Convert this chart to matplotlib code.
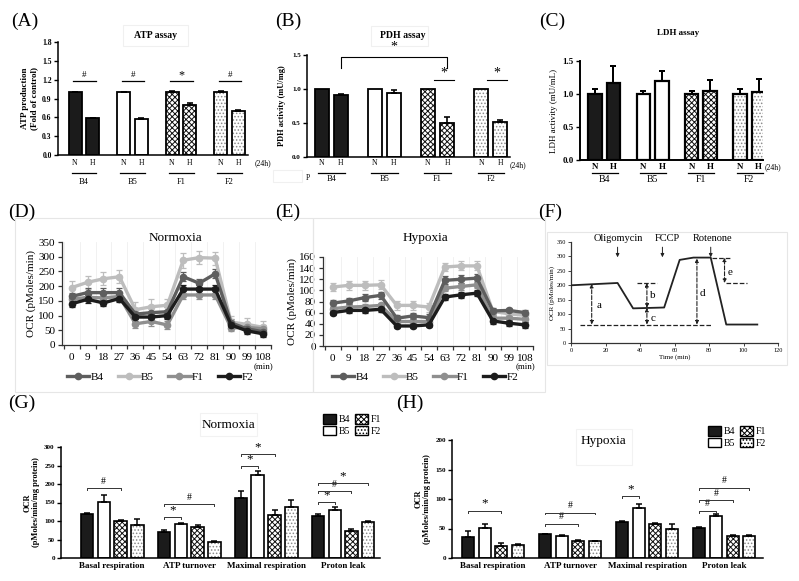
import matplotlib
matplotlib.use('Agg')
import matplotlib.pyplot as plt
import numpy as np
from matplotlib.lines import Line2D
from matplotlib.patches import Rectangle

plt.rcParams['font.family'] = ['Liberation Serif', 'DejaVu Serif']
plt.rcParams['hatch.linewidth'] = 0.7

# ---------------- data ----------------
groups = ['B4', 'B5', 'F1', 'F2']
conds = ['N', 'H']

atp_N = [1.00, 1.00, 1.00, 1.00]
atp_N_err = [0.01, 0.01, 0.025, 0.02]
atp_H = [0.59, 0.58, 0.80, 0.70]
atp_H_err = [0.005, 0.012, 0.03, 0.01]
atp_sig = ['#', '#', '*', '#']

pdh_N = [1.00, 1.00, 1.00, 1.00]
pdh_N_err = [0.0, 0.0, 0.0, 0.0]
pdh_H = [0.91, 0.94, 0.50, 0.51]
pdh_H_err = [0.01, 0.04, 0.09, 0.03]

ldh_N = [1.00, 1.00, 1.00, 1.00]
ldh_N_err = [0.07, 0.05, 0.04, 0.08]
ldh_H = [1.17, 1.19, 1.05, 1.03]
ldh_H_err = [0.25, 0.16, 0.16, 0.20]

time_min = [0, 9, 18, 27, 36, 45, 54, 63, 72, 81, 90, 99, 108]

norm_B4 = [165, 178, 178, 178, 105, 110, 113, 232, 210, 242, 75, 55, 45]
norm_B5 = [195, 213, 225, 232, 120, 130, 135, 288, 297, 295, 78, 70, 60]
norm_F1 = [155, 162, 160, 165, 72, 80, 68, 170, 170, 170, 58, 60, 55]
norm_F2 = [140, 155, 143, 158, 95, 95, 100, 190, 190, 190, 68, 48, 38]
norm_B4_err = [12, 15, 15, 15, 15, 15, 15, 15, 15, 15, 12, 10, 10]
norm_B5_err = [22, 22, 22, 22, 25, 25, 22, 25, 22, 22, 20, 22, 22]
norm_F1_err = [12, 12, 12, 12, 15, 15, 15, 15, 15, 15, 12, 12, 12]
norm_F2_err = [12, 12, 12, 12, 12, 12, 12, 15, 15, 15, 10, 10, 10]

hyp_B4 = [77, 81, 87, 91, 50, 54, 51, 118, 120, 122, 63, 64, 60]
hyp_B5 = [106, 109, 109, 110, 73, 73, 70, 142, 144, 144, 62, 58, 55]
hyp_F1 = [67, 70, 71, 73, 44, 44, 44, 104, 107, 110, 50, 50, 48]
hyp_F2 = [60, 64, 64, 66, 36, 36, 38, 88, 92, 95, 45, 41, 38]
hyp_B4_err = [6, 6, 6, 6, 6, 6, 6, 7, 7, 7, 5, 5, 5]
hyp_B5_err = [8, 8, 8, 8, 8, 8, 8, 8, 8, 8, 7, 7, 7]
hyp_F1_err = [5, 5, 5, 5, 5, 5, 5, 6, 6, 6, 5, 5, 5]
hyp_F2_err = [4, 4, 4, 4, 4, 4, 4, 5, 5, 5, 5, 5, 6]

f_time = [0, 27, 36, 54, 63, 71, 81, 90, 108]
f_ocr = [200, 208, 120, 123, 288, 296, 296, 64, 64]

resp_cats = ['Basal respiration', 'ATP turnover', 'Maximal respiration', 'Proton leak']
g_B4 = [120, 70, 162, 113]
g_B5 = [152, 92, 224, 130]
g_F1 = [100, 83, 116, 73]
g_F2 = [88, 43, 139, 98]
g_B4_err = [2, 5, 20, 6]
g_B5_err = [18, 2, 12, 7]
g_F1_err = [3, 5, 14, 5]
g_F2_err = [17, 3, 17, 3]
# (category, bar from, bar to, y, symbol)
g_sig = [(0, 0, 2, 189, '#'), (1, 0, 1, 111, '*'), (1, 0, 3, 146, '#'),
         (2, 0, 1, 249, '*'), (2, 0, 2, 281, '*'),
         (3, 0, 1, 151, '*'), (3, 0, 2, 181, '#'), (3, 0, 3, 203, '*')]

h_B4 = [36, 40, 61, 51]
h_B5 = [51, 37, 84, 72]
h_F1 = [21, 29, 58, 38]
h_F2 = [22, 28, 50, 37]
h_B4_err = [10, 1, 2, 1]
h_B5_err = [6, 2, 7, 2]
h_F1_err = [4, 1, 2, 1]
h_F2_err = [2, 0.5, 8, 2]
h_sig = [(0, 0, 2, 80, '*'), (1, 0, 2, 58, '#'), (1, 0, 3, 77, '#'),
         (2, 0, 1, 105, '*'),
         (3, 0, 1, 80, '#'), (3, 0, 2, 98, '#'), (3, 0, 3, 119, '#')]

# ---------------- helpers ----------------
W, H = 799, 581
fig = plt.figure(figsize=(W / 100, H / 100), dpi=100)


def add_ax(l, t, r, b):
    return fig.add_axes([l / W, 1 - b / H, (r - l) / W, (b - t) / H])


def ftext(x, y, s, **kw):
    kw.setdefault('ha', 'center')
    kw.setdefault('va', 'center')
    return fig.text(x / W, 1 - y / H, s, **kw)


def fbox(l, t, r, b, color='#e6e6e6', lw=0.8):
    fig.patches.append(Rectangle((l / W, 1 - b / H), (r - l) / W, (b - t) / H,
                                 transform=fig.transFigure, fill=False,
                                 edgecolor=color, lw=lw, zorder=0))


def symsize(sym, base):
    return base * 1.35 if sym == '*' else base


STY = {'B4': ('#1b1b1b', None, None),
       'B5': ('white', None, None),
       'F1': ('white', 'xxxxxx', '#111111'),
       'F2': ('white', '.....', '#8a8a8a')}


def draw_bar(ax, x, h, err, name, w=1.0, lw=1.2, cap=2.2):
    fc, hatch, hc = STY[name]
    if hatch:
        ax.bar(x, h, w, color='white', edgecolor=hc, hatch=hatch, linewidth=0, zorder=2)
        ax.bar(x, h, w, fill=False, edgecolor='k', linewidth=lw, zorder=3)
    else:
        ax.bar(x, h, w, color=fc, edgecolor='k', linewidth=lw, zorder=2)
    if err > 0:
        ax.errorbar([x], [h], yerr=[[0], [err]], fmt='none', ecolor='k',
                    elinewidth=lw * 0.9, capsize=cap, capthick=lw * 0.9, zorder=4)


def style_prism(ax, ticks, labels, lsize, bold=True, lw=1.1):
    for s in ['top', 'right']:
        ax.spines[s].set_visible(False)
    for s in ['left', 'bottom']:
        ax.spines[s].set_linewidth(lw)
    ax.set_xticks([])
    ax.set_yticks(ticks, labels, fontsize=lsize, fontweight='bold' if bold else 'normal')
    ax.tick_params(axis='y', length=3, width=1, pad=1.5)


def below(ax, x, dy, s, **kw):
    ax.annotate(s, xy=(x, 0), xycoords=('data', 'axes fraction'), xytext=(0, -dy),
                textcoords='offset pixels', ha='center', va='center',
                annotation_clip=False, **kw)


def below_line(ax, x1, x2, dy, lw=0.9):
    frac = -dy / ax.bbox.height
    ax.plot([x1, x2], [frac, frac], transform=ax.get_xaxis_transform(),
            color='k', lw=lw, clip_on=False)


def nh_panel(ax, nvals, nerr, hvals, herr, G, S, lw, lsize, nh_bold=False,
             dy_nh=8, dy_line=18, dy_glab=26):
    for g, name in enumerate(groups):
        xN, xH = g * G, g * G + S
        draw_bar(ax, xN, nvals[g], nerr[g], name, lw=lw)
        draw_bar(ax, xH, hvals[g], herr[g], name, lw=lw)
        below(ax, xN, dy_nh, conds[0], fontsize=lsize, fontweight='bold' if nh_bold else 'normal')
        below(ax, xH, dy_nh, conds[1], fontsize=lsize, fontweight='bold' if nh_bold else 'normal')
        below_line(ax, xN - 0.25, xH + 0.3, dy_line)
        below(ax, (xN + xH) / 2, dy_glab, name, fontsize=lsize + 0.5)


# ---------------- Panel A ----------------
axA = add_ax(58, 42, 248, 155)
GA, SA = 3.73, 1.35
nh_panel(axA, atp_N, atp_N_err, atp_H, atp_H_err, GA, SA, 1.3, 5.5,
         dy_nh=8, dy_line=18, dy_glab=27)
axA.set_xlim(-1.31, 13.3)
axA.set_ylim(0, 1.8)
style_prism(axA, [0, 0.3, 0.6, 0.9, 1.2, 1.5, 1.8],
            ['0.0', '0.3', '0.6', '0.9', '1.2', '1.5', '1.8'], 5.5)
axA.set_ylabel('ATP production\n(Fold of control)', fontsize=6.5, fontweight='bold',
               labelpad=3, linespacing=1.1)
for g in range(4):
    x1, x2 = g * GA - 0.15, g * GA + SA + 0.25
    axA.plot([x1, x2], [1.18, 1.18], color='k', lw=0.9, zorder=5)
    axA.text((x1 + x2) / 2, 1.27, atp_sig[g], ha='center', va='center',
             fontsize=symsize(atp_sig[g], 6.5))
ftext(263, 163, '(24h)', fontsize=5.5)
ftext(155, 36, 'ATP assay', fontsize=7, fontweight='bold')
fbox(123, 25, 188, 46, color='#f0f0f0')
ftext(25, 21, '(A)', fontsize=14)

# ---------------- Panel B ----------------
axB = add_ax(307, 55, 510, 157)
GB, SB = 3.66, 1.31
nh_panel(axB, pdh_N, pdh_N_err, pdh_H, pdh_H_err, GB, SB, 1.3, 5.5,
         dy_nh=6, dy_line=16, dy_glab=22)
axB.set_xlim(-1.03, 12.97)
axB.set_ylim(0, 1.5)
style_prism(axB, [0, 0.5, 1.0, 1.5], ['0.0', '0.5', '1.0', '1.5'], 5)
axB.set_ylabel('PDH activity (mU/mg)', fontsize=6, fontweight='bold', labelpad=4)
xb1, xb2 = SB, 2 * GB + SB
axB.plot([xb1, xb1, xb2, xb2], [1.31, 1.47, 1.47, 1.31], color='k', lw=0.8, clip_on=False)
axB.text((xb1 + xb2) / 2, 1.62, '*', ha='center', va='center', fontsize=10, clip_on=False)
for g in [2, 3]:
    x1, x2 = g * GB + 0.4, g * GB + SB + 0.5
    axB.plot([x1, x2], [1.13, 1.13], color='k', lw=0.8)
    axB.text((x1 + x2) / 2, 1.23, '*', ha='center', va='center', fontsize=10)
ftext(518, 165, '(24h)', fontsize=5.5)
ftext(403, 36, 'PDH assay', fontsize=7, fontweight='bold')
fbox(371, 26, 428, 46, color='#f0f0f0')
fbox(273, 170, 302, 182, color='#f0f0f0')
ftext(308, 178, 'P', fontsize=5.5)
ftext(288, 21, '(B)', fontsize=14)

# ---------------- Panel C ----------------
axC = add_ax(580, 61, 763, 160)
GC, SC = 3.58, 1.37
nh_panel(axC, ldh_N, ldh_N_err, ldh_H, ldh_H_err, GC, SC, 1.6, 6.5, nh_bold=True,
         dy_nh=7, dy_line=13, dy_glab=20)
axC.set_xlim(-1.11, 12.44)
axC.set_ylim(0, 1.5)
style_prism(axC, [0, 0.5, 1.0, 1.5], ['0.0', '0.5', '1.0', '1.5'], 6.5, lw=1.4)
axC.set_ylabel('LDH activity (mU/mL)', fontsize=6.5, labelpad=3)
ftext(773, 167, '(24h)', fontsize=5.5)
ftext(678, 33, 'LDH assay', fontsize=6.5, fontweight='bold')
ftext(552, 21, '(C)', fontsize=14)

# ---------------- Panels D & E ----------------
LCOL = {'B4': '#5e5e5e', 'B5': '#bdbdbd', 'F1': '#8f8f8f', 'F2': '#1c1c1c'}
ORDER = ['B5', 'F1', 'B4', 'F2']


def line_panel(ax, series, errs, ylim, ystep):
    x = np.arange(len(time_min))
    for name in ORDER:
        ax.errorbar(x, series[name], yerr=errs[name], color=LCOL[name], lw=2.4,
                    marker='o', ms=4.5, capsize=2.5, elinewidth=0.9, capthick=0.9,
                    ecolor=LCOL[name], zorder=3)
    ax.set_xlim(x[0] - 0.6, x[-1] + 0.5)
    ax.set_ylim(*ylim)
    ax.set_xticks(x, [str(t) for t in time_min], fontsize=8)
    ax.set_xticks(np.arange(-0.5, len(time_min), 1), minor=True)
    ax.tick_params(axis='x', which='major', length=0, pad=6)
    ax.tick_params(axis='x', which='minor', length=3, width=0.9, direction='out', color='#333')
    ax.set_yticks(np.arange(ylim[0], ylim[1] + 1, ystep))
    ax.tick_params(axis='y', length=3, width=0.9, labelsize=8, pad=2, color='#333')
    for s in ['top', 'right']:
        ax.spines[s].set_visible(False)
    for s in ['left', 'bottom']:
        ax.spines[s].set_color('#333')
        ax.spines[s].set_linewidth(0.9)
    ax.grid(axis='x', which='minor', color='#efefef', lw=0.6)
    ax.set_axisbelow(True)
    ax.set_ylabel('OCR (pMoles/min)', fontsize=8, labelpad=2)


axD = add_ax(62, 242, 271, 345)
line_panel(axD, {'B4': norm_B4, 'B5': norm_B5, 'F1': norm_F1, 'F2': norm_F2},
           {'B4': norm_B4_err, 'B5': norm_B5_err, 'F1': norm_F1_err, 'F2': norm_F2_err},
           (0, 350), 50)
ftext(175, 238, 'Normoxia', fontsize=9.5)
ftext(263, 366, '(min)', fontsize=6.5)

axE = add_ax(323, 257, 533, 346)
line_panel(axE, {'B4': hyp_B4, 'B5': hyp_B5, 'F1': hyp_F1, 'F2': hyp_F2},
           {'B4': hyp_B4_err, 'B5': hyp_B5_err, 'F1': hyp_F1_err, 'F2': hyp_F2_err},
           (0, 160), 20)
ftext(425, 238, 'Hypoxia', fontsize=9.5)
ftext(525, 366, '(min)', fontsize=6.5)

leg_handles = [Line2D([], [], color=LCOL[n], lw=2.4, marker='o', ms=4.5) for n in groups]
for cx in [160, 425]:
    fig.legend(leg_handles, groups, loc='center', bbox_to_anchor=(cx / W, 1 - 377 / H),
               ncol=4, frameon=False, fontsize=8, handlelength=2.0, handletextpad=0.1,
               columnspacing=1.3, borderaxespad=0)
fbox(15, 218, 313, 392)
fbox(313, 218, 545, 392)
ftext(22, 212, '(D)', fontsize=14)
ftext(288, 212, '(E)', fontsize=14)

# ---------------- Panel F ----------------
axF = add_ax(571, 242, 778, 343)
axF.plot(f_time, f_ocr, color='#222', lw=1.3, zorder=3)
axF.set_xlim(0, 120)
axF.set_ylim(0, 350)
axF.set_xticks(range(0, 121, 20))
axF.set_yticks(range(0, 351, 50))
axF.tick_params(labelsize=4.5, length=2, width=0.7, pad=1.5, color='#444')
for s in ['top', 'right']:
    axF.spines[s].set_visible(False)
for s in ['left', 'bottom']:
    axF.spines[s].set_linewidth(0.9)
    axF.spines[s].set_color('#333')
axF.set_xlabel('Time (min)', fontsize=5, labelpad=1)
axF.set_ylabel('OCR (pMoles/min)', fontsize=5, labelpad=1)
dash = dict(color='#222', lw=0.9, ls='--')
axF.plot([5, 81], [64, 64], **dash)
axF.plot([38, 50], [208, 208], **dash)
axF.plot([82, 93], [296, 296], **dash)
axF.plot([90, 102], [208, 208], **dash)


def darrow(x, y1, y2):
    axF.annotate('', xy=(x, y2), xytext=(x, y1),
                 arrowprops=dict(arrowstyle='<|-|>', color='#222', lw=0.8, ls='--',
                                 mutation_scale=5, shrinkA=0, shrinkB=0))


darrow(12, 64, 205)
darrow(44, 122, 208)
darrow(44, 64, 122)
darrow(73, 64, 293)
darrow(89, 208, 296)
for lab, xx, yy in [('a', 16, 130), ('b', 47.5, 165), ('c', 47.5, 85),
                    ('d', 76, 170), ('e', 92, 245)]:
    axF.text(xx, yy, lab, fontsize=8, ha='center', va='center')
for lab, xa, xt in [('Oligomycin', 27, 27.5), ('FCCP', 53, 56), ('Rotenone', 81, 82)]:
    axF.text(xt, 362, lab, fontsize=7.5, ha='center', va='center', clip_on=False)
    axF.annotate('', xy=(xa, 297), xytext=(xa, 332), annotation_clip=False,
                 arrowprops=dict(arrowstyle='-|>', color='#222', lw=0.7,
                                 mutation_scale=5, shrinkA=0, shrinkB=0))
fbox(547, 232, 787, 365)
ftext(550, 212, '(F)', fontsize=14)

# ---------------- Panels G & H ----------------


def resp_panel(ax, vals, errs, G, S, sig, ymax, ystep, sig_off):
    for c in range(len(resp_cats)):
        for j, name in enumerate(groups):
            draw_bar(ax, c * G + j * S, vals[name][c], errs[name][c], name, lw=1.2, cap=2.2)
    for (c, a, b, y, sym) in sig:
        x1, x2 = c * G + a * S, c * G + b * S
        t = sig_off * 0.25
        ax.plot([x1, x1, x2, x2], [y - t, y, y, y - t], color='#333', lw=0.7, zorder=5)
        ax.text((x1 + x2) / 2, y + sig_off, sym, ha='center', va='center',
                fontsize=symsize(sym, 7))
    ax.set_ylim(0, ymax)
    ticks = list(range(0, ymax + 1, ystep))
    style_prism(ax, ticks, [str(t) for t in ticks], 5, lw=1.1)
    ax.set_xticks([c * G + 1.5 * S for c in range(len(resp_cats))], resp_cats,
                  fontsize=6.5, fontweight='bold')
    ax.tick_params(axis='x', length=0, pad=3)
    ax.set_ylabel('OCR\n(pMoles/min/mg protein)', fontsize=6, fontweight='bold',
                  linespacing=1.1, labelpad=3)


GG, SG = 6.16, 1.34
axG = add_ax(61, 447, 380, 558)
resp_panel(axG, {'B4': g_B4, 'B5': g_B5, 'F1': g_F1, 'F2': g_F2},
           {'B4': g_B4_err, 'B5': g_B5_err, 'F1': g_F1_err, 'F2': g_F2_err},
           GG, SG, g_sig, 300, 50, 18)
axG.set_xlim(-2.08, 23.44)
ftext(228, 425, 'Normoxia', fontsize=9.5)
fbox(200, 413, 257, 436, color='#f2f2f2')
ftext(22, 403, '(G)', fontsize=14)

GH, SH = 6.42, 1.39
axH = add_ax(452, 440, 763, 558)
resp_panel(axH, {'B4': h_B4, 'B5': h_B5, 'F1': h_F1, 'F2': h_F2},
           {'B4': h_B4_err, 'B5': h_B5_err, 'F1': h_F1_err, 'F2': h_F2_err},
           GH, SH, h_sig, 200, 50, 12)
axH.set_xlim(-1.33, 24.58)
ftext(603, 441, 'Hypoxia', fontsize=9.5)
fbox(576, 429, 632, 465, color='#f2f2f2')
ftext(410, 403, '(H)', fontsize=14)

leg_patches = []
for n in groups:
    fc, hatch, hc = STY[n]
    leg_patches.append(Rectangle((0, 0), 1, 1, facecolor=fc, edgecolor='k',
                                 hatch=hatch, lw=1.0))
for cx, cy in [(352, 425), (737, 437)]:
    fig.legend(leg_patches, groups, loc='center', bbox_to_anchor=(cx / W, 1 - cy / H),
               ncol=2, frameon=False, fontsize=7, handlelength=1.3, handleheight=1.1,
               handletextpad=0.3, columnspacing=0.5, labelspacing=0.15, borderaxespad=0)

fig.savefig('out.png', dpi=100)
